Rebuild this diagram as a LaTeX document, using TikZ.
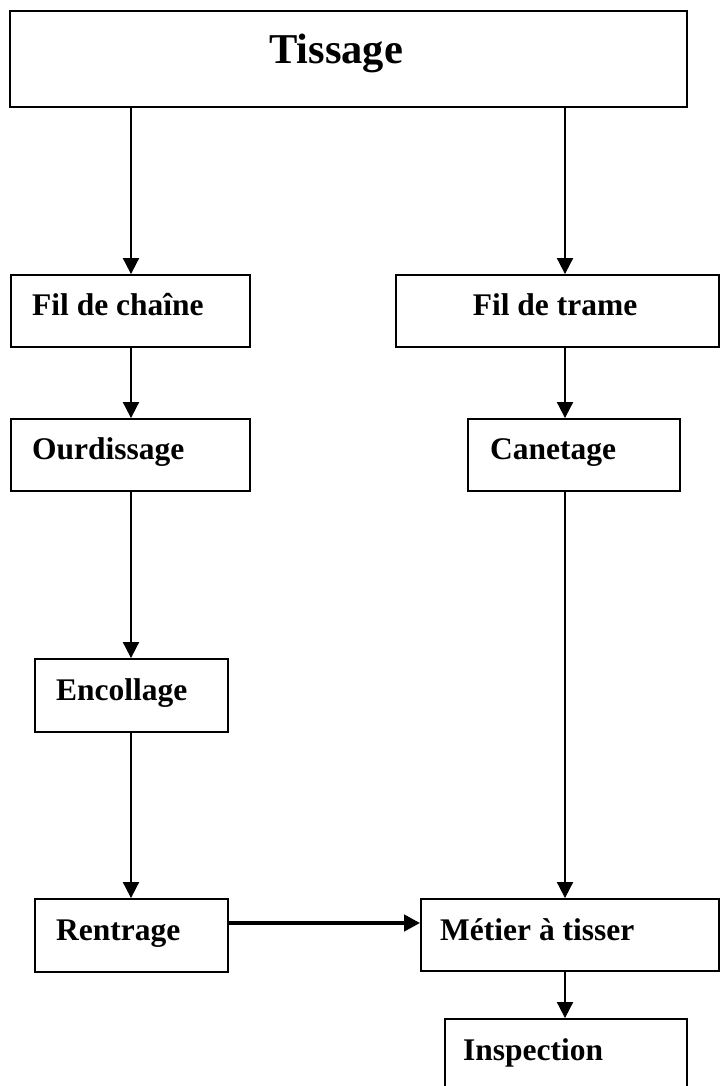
\documentclass[tikz,border=0pt]{standalone}
\usepackage{fontspec}
\setmainfont{Liberation Serif}
\usetikzlibrary{arrows.meta}
\begin{document}
\begin{tikzpicture}[x=1pt,y=-1pt,
  box/.style={draw,line width=1.8pt,inner sep=0pt},
  lbl/.style={font=\bfseries\fontsize{31.5}{36}\selectfont,inner sep=0pt,anchor=base west},
  arr/.style={line width=1.8pt,-{Triangle[length=16pt,width=16pt]}},
  thickarr/.style={line width=4pt,-{Triangle[length=16pt,width=16pt]}}]
\useasboundingbox (0,0) rectangle (720,1086);
\clip (0,0) rectangle (720,1086);
% column positions of the vertical connectors
\coordinate (colL) at (131,0);
\coordinate (colR) at (565,0);
% boxes
\node[box,minimum width=677pt,minimum height=96pt] (tis) at (348.5,59) {};
\node[box,minimum width=239pt,minimum height=72pt] (chaine) at (130.5,311) {};
\node[box,minimum width=323pt,minimum height=72pt] (trame) at (557.5,311) {};
\node[box,minimum width=239pt,minimum height=72pt] (ourd) at (130.5,455) {};
\node[box,minimum width=212pt,minimum height=72pt] (canet) at (574,455) {};
\node[box,minimum width=193pt,minimum height=73pt] (encol) at (131.5,695.5) {};
\node[box,minimum width=193pt,minimum height=73pt] (rentr) at (131.5,935.5) {};
\node[box,minimum width=298pt,minimum height=72pt] (metier) at (570,935) {};
% the last box runs past the lower edge of the page
\node[box,minimum width=242pt,minimum height=80pt] (insp) at (566,1059) {};
% labels
\node[font=\bfseries\fontsize{42.5}{48}\selectfont,inner sep=0pt,anchor=base] (tisT) at (336,64) {Tissage};
\node[lbl] (chaineT) at (32,315) {Fil de chaîne};
\node[lbl,anchor=base] (trameT) at (555,315) {Fil de trame};
\node[lbl] (ourdT) at (32,459) {Ourdissage};
\node[lbl] (canetT) at (490,459) {Canetage};
\node[lbl] (encolT) at (56,700) {Encollage};
\node[lbl] (rentrT) at (56,940) {Rentrage};
\node[lbl] (metierT) at (440,940) {Métier à tisser};
\node[lbl] (inspT) at (463,1060) {Inspection};
% connectors
\draw[arr] (tis.south -| colL) -- (chaine.north -| colL);
\draw[arr] (tis.south -| colR) -- (trame.north -| colR);
\draw[arr] (chaine.south -| colL) -- (ourd.north -| colL);
\draw[arr] (trame.south -| colR) -- (canet.north -| colR);
\draw[arr] (ourd.south -| colL) -- (encol.north -| colL);
\draw[arr] (encol.south -| colL) -- (rentr.north -| colL);
\draw[arr] (canet.south -| colR) -- (metier.north -| colR);
\draw[arr] (metier.south -| colR) -- (insp.north -| colR);
\draw[thickarr] (rentr.east |- 0,923) -- (metier.west |- 0,923);
\end{tikzpicture}
\end{document}
